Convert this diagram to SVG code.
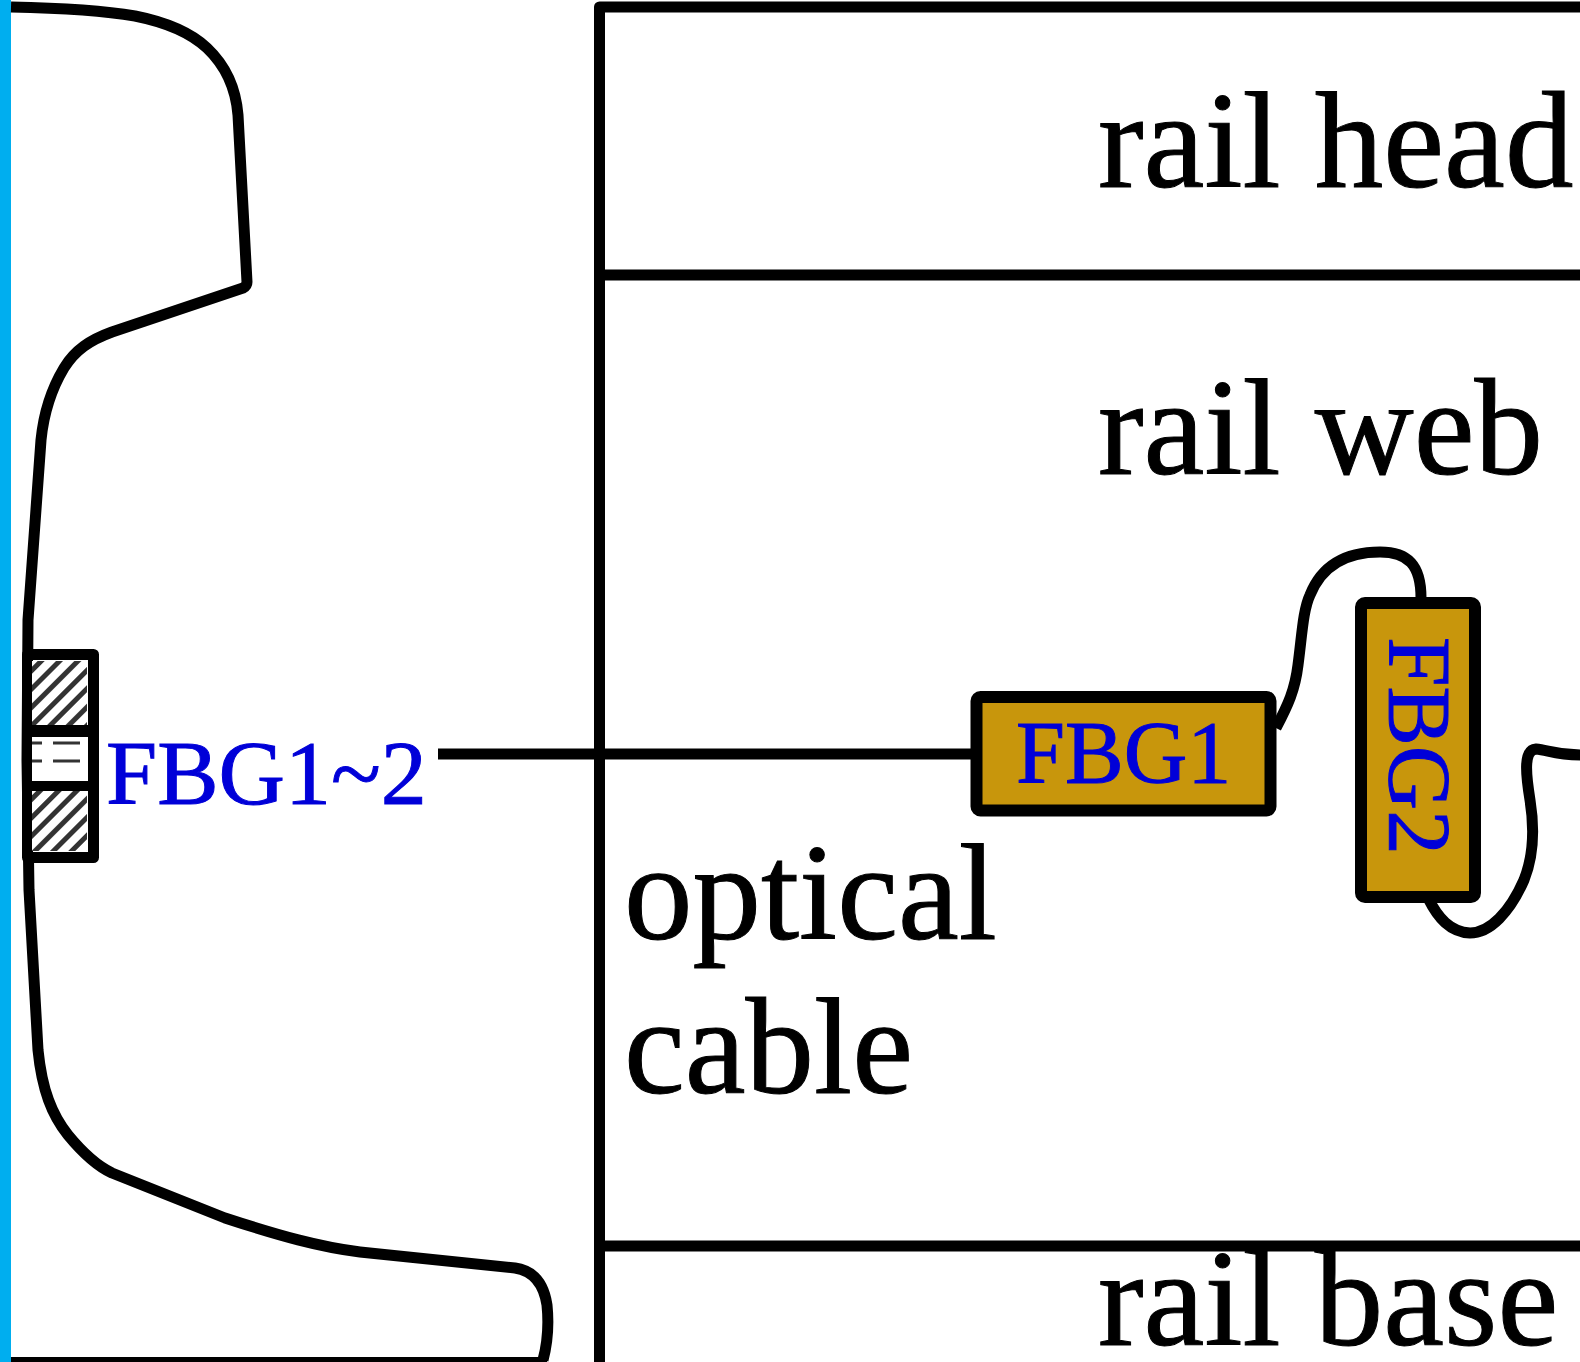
<svg xmlns="http://www.w3.org/2000/svg" width="1580" height="1362" viewBox="0 0 1580 1362">
<style>
.ln{fill:none;stroke:#000;stroke-width:11;stroke-linejoin:round;stroke-linecap:butt}
.t{font-family:"Liberation Serif","Times New Roman",serif;fill:#000;font-size:137px;stroke:#000;stroke-width:1}
.b{font-family:"Liberation Serif","Times New Roman",serif;fill:#0000d8;stroke:#0000d8;stroke-width:1}
.fbg{fill:#c8960c;stroke:#000;stroke-width:12;stroke-linejoin:round}
</style>
<defs>
<pattern id="hatch" width="13" height="13" patternUnits="userSpaceOnUse" patternTransform="rotate(45)">
<rect width="13" height="13" fill="#fff"/>
<rect width="5" height="13" fill="#333"/>
</pattern>
</defs>
<rect width="1580" height="1362" fill="#fff"/>
<rect id="edge-bar" x="0" y="0" width="11" height="1362" fill="#00aeef"/>
<g id="rail-profile">
<path class="ln" d="M11 7C60 8 100 10 135 16C165 22 190 32 207 48C226 66 236 90 238 115L247 282Q247 286 243 288L112 332C90 340 75 350 64 368C52 388 44 410 41 440L28 620L27 760L29 890L38 1050C42 1090 52 1115 68 1135C82 1152 95 1165 112 1173L225 1218C280 1236 320 1247 360 1252L515 1268C535 1271 544 1285 547 1305C549 1325 547 1345 543 1360"/>
<path d="M11 1360H547" fill="none" stroke="#000" stroke-width="6"/>
</g>
<g id="sensor-block">
<rect x="27.500" y="654.500" width="66" height="203" fill="#fff" stroke="#000" stroke-width="11" stroke-linejoin="round"/>
<rect x="32" y="661" width="55" height="64" fill="url(#hatch)"/>
<rect x="32" y="791" width="55" height="60" fill="url(#hatch)"/>
<rect x="27" y="725" width="67" height="12" fill="#000"/>
<rect x="27" y="781" width="67" height="10" fill="#000"/>
<rect x="32" y="737" width="55" height="44" fill="#fff"/>
<path d="M32 743H42M53 743H80M32 761H42M53 761H80" fill="none" stroke="#333" stroke-width="3"/>
</g>
<g id="section-box">
<path class="ln" d="M1580 7H599.500V1362"/>
<path class="ln" d="M600 275H1580"/>
<path class="ln" d="M600 1246H1580"/>
</g>
<g id="connectors">
<path class="ln" d="M438 754H971"/>
<path class="ln" d="M1276 728C1288 705 1295 690 1298 665C1302 635 1303 610 1310 595C1320 570 1340 552 1380 552C1408 552 1421 565 1421 598"/>
<path class="ln" d="M1428 898C1438 918 1450 932 1470 933C1490 933 1510 912 1524 880C1534 855 1534 825 1530 800C1526 775 1523 750 1536 749C1548 750 1555 755 1580 755"/>
</g>
<g id="FBG1">
<rect class="fbg" x="976.500" y="697" width="294" height="113.500" rx="4"/>
<text class="b" x="1016" y="782" font-size="88">FBG1</text>
</g>
<g id="FBG2">
<rect class="fbg" x="1361" y="603" width="114" height="294" rx="4"/>
<text class="b" transform="translate(1390 637) rotate(90)" font-size="89">FBG2</text>
</g>
<g id="labels">
<text class="b" x="106" y="804" font-size="92">FBG1~2</text>
<text class="t" x="1098" y="187">rail head</text>
<text class="t" x="1098" y="474">rail web</text>
<text class="t" x="1098" y="1345">rail base</text>
<text class="t" x="624" y="939">optical</text>
<text class="t" x="624" y="1093">cable</text>
</g>
</svg>
